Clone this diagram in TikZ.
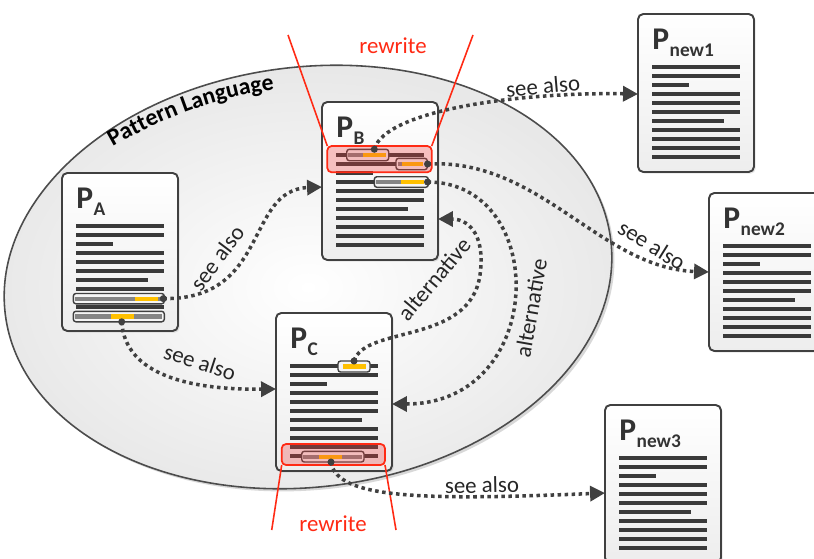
\documentclass[tikz,border=0pt]{standalone}
\usepackage{fontspec}
\setmainfont{Carlito}
\usetikzlibrary{arrows.meta,calc,shadows,decorations.text}

\definecolor{ink}{HTML}{404040}
\definecolor{txt}{HTML}{3A3A3A}
\definecolor{refgray}{HTML}{858585}
\definecolor{mark}{HTML}{FFC000}
\definecolor{hl}{HTML}{FF2A14}
\definecolor{hlfill}{HTML}{F03C3C}

% eleven text lines of a pattern page, relative to its top-left corner
\newcommand\doclines{%
  \foreach \i/\len in {0/88,1/88,2/37,3/88,4/88,5/88,6/72,7/88,8/88,9/88,10/88}
    {\draw[txtline] (14,53+9*\i) -- ++(\len,0);}}
% page heading "P" with its index
\newcommand\doctitle[2]{%
  \node[ptitle] (#1) at (14,35) {P\kern0.3pt\raisebox{-4.3pt}{\fontsize{11}{11}\selectfont #2}};}

\begin{document}
\begin{tikzpicture}[x=0.02cm,y=-0.02cm,
  doc/.style={draw=ink, line width=1.1pt, rounded corners=3pt,
    minimum width=2.32cm, minimum height=3.16cm, anchor=north west,
    inner sep=0pt, outer sep=0pt, top color=white, bottom color=black!7,
    drop shadow={shadow xshift=1pt, shadow yshift=-1pt, opacity=0.2}},
  lang/.style={draw=black!70, line width=0.9pt, inner color=white, outer color=black!9,
    drop shadow={shadow xshift=1.5pt, shadow yshift=-1.5pt, opacity=0.3}},
  txtline/.style={draw=txt, line width=2.3pt},
  refbox/.style={draw=ink, line width=0.8pt, rounded corners=1.5pt, fill=black!4},
  refline/.style={draw=refgray, line width=2.3pt},
  markline/.style={draw=mark, line width=2.3pt},
  refdot/.style={circle, fill=ink, inner sep=0pt, minimum size=4pt},
  link/.style={draw=ink, line width=2pt, dash pattern=on 2pt off 2pt,
    -{Triangle[length=8.5pt,width=8.5pt]}},
  lbl/.style={font=\fontsize{13}{15}\selectfont, text=black!85, inner sep=1pt},
  hlbox/.style={draw=hl, line width=1pt, rounded corners=2.5pt, fill=hlfill, fill opacity=0.3},
  hlline/.style={draw=hl, line width=0.9pt},
  rewrite/.style={font=\fontsize{13}{15}\selectfont, text=hl, inner sep=1pt},
  ptitle/.style={anchor=base west, font=\bfseries\fontsize{18}{18}\selectfont, text=black!80, inner sep=0pt}]

\useasboundingbox (0,0) rectangle (814,558);
\fill[white] (0,0) rectangle (814,558);

% the pattern language
\draw[lang, rotate around={7:(308,277)}] (308,277) ellipse [x radius=305, y radius=210];
\path[decorate, decoration={text along path, text align=center,
    text={|\bfseries\fontsize{13.5}{15}\selectfont|Pattern Language}}]
  (107,150) .. controls (160,119) and (215,97) .. (281,89);

% pattern pages
\node[doc] (PA) at (62,173) {};
\node[doc] (PB) at (322,102) {};
\node[doc] (PC) at (276,313) {};
\node[doc] (PN1) at (638,14) {};
\node[doc] (PN2) at (709,193) {};
\node[doc] (PN3) at (605,405) {};

\begin{scope}[shift={(PA.north west)}]
  \doctitle{tA}{A}
  \doclines
  \draw[refbox] (11.3,120.5) rectangle (102.3,130.8);
  \draw[refline] (13,125.6) -- (100,125.6);
  \draw[markline] (73,125.6) -- (96,125.6);
  \draw[refbox] (11.3,138.3) rectangle (102.3,148.8);
  \draw[refline] (13,143.5) -- (100,143.5);
  \draw[markline] (49,143.5) -- (72,143.5);
  \node[refdot] (dA1) at (101.3,125.6) {};
  \node[refdot] (dA2) at (59.7,148.8) {};
\end{scope}

\begin{scope}[shift={(PB.north west)}]
  \doctitle{tB}{B}
  \doclines
  \draw[refbox] (24.7,47.3) rectangle (66.7,58.7);
  \draw[refline] (26,53) -- (41.3,53);
  \draw[markline] (41.3,53) -- (64,53);
  \draw[refbox] (74,56.3) rectangle (105.3,67.7);
  \draw[refline] (76,62) -- (79.7,62);
  \draw[markline] (79.7,62) -- (101.3,62);
  \draw[refbox] (52.3,74.7) rectangle (106.3,85.3);
  \draw[refline] (54,80) -- (79,80);
  \draw[markline] (79,80) -- (102,80);
  \coordinate (hlBl) at (5.3,44);
  \coordinate (hlBr) at (109.7,44);
  \draw[hlbox] (hlBl) rectangle (109.7,70.3);
  \node[refdot] (dB1) at (52.3,47.3) {};
  \node[refdot] (dB2) at (105.5,62) {};
  \node[refdot] (dB3) at (105.5,80) {};
\end{scope}

\begin{scope}[shift={(PC.north west)}]
  \doctitle{tC}{C}
  \doclines
  \draw[refbox] (62,48) rectangle (94,59);
  \draw[markline] (67.3,53.5) -- (89.7,53.5);
  \draw[refbox] (25.7,138.3) rectangle (88,149);
  \draw[refline] (27,143.6) -- (86,143.6);
  \draw[markline] (43,143.6) -- (65.7,143.6);
  \coordinate (hlCl) at (5.7,152);
  \coordinate (hlCr) at (109,152);
  \draw[hlbox] (5.7,131) rectangle (hlCr);
  \node[refdot] (dC1) at (78,48) {};
  \node[refdot] (dC2) at (55,149) {};
\end{scope}

\begin{scope}[shift={(PN1.north west)}]
  \doctitle{tN1}{new1}
  \doclines
\end{scope}
\begin{scope}[shift={(PN2.north west)}]
  \doctitle{tN2}{new2}
  \doclines
\end{scope}
\begin{scope}[shift={(PN3.north west)}]
  \doctitle{tN3}{new3}
  \doclines
\end{scope}

% rewritten parts
\coordinate (rayBl) at (288,35);
\coordinate (rayBr) at (473,35);
\coordinate (rayCl) at (271.7,530);
\coordinate (rayCr) at (396,530);
\draw[hlline] (hlBl) -- (rayBl);
\draw[hlline] (hlBr) -- (rayBr);
\draw[hlline] (hlCl) -- (rayCl);
\draw[hlline] (hlCr) -- (rayCr);
\node[rewrite] (rwB) at (393,46) {rewrite};
\node[rewrite] (rwC) at (333,524) {rewrite};

% links between patterns
\coordinate (inB1) at ($(PB.north west)+(0,85)$);
\coordinate (inC1) at ($(PC.north west)+(0,76)$);
\coordinate (inN1) at ($(PN1.north west)+(0,80)$);
\coordinate (inN2) at ($(PN2.north west)+(0,79)$);
\coordinate (inC2) at ($(PC.north east)+(0,91)$);
\coordinate (inB2) at ($(PB.north east)+(0,117)$);
\coordinate (inN3) at ($(PN3.north west)+(0,88)$);

\draw[link] (dA1.center) .. controls (270,300) and (245,190) .. (inB1);
\draw[link] (dA2.center) .. controls (125,375) and (190,390) .. (inC1);
\draw[link] (dB1.center) .. controls (385,110) and (520,92) .. (inN1);
\draw[link] (dB2.center) .. controls (540,158) and (600,268) .. (inN2);
\draw[link] (dB3.center) .. controls (550,182) and (548,404) .. (inC2);
\draw[link] (dC1.center) .. controls (365,325) and (470,345) .. (480,275)
                         .. controls (486,230) and (465,219) .. (inB2);
\draw[link] (dC2.center) .. controls (336,500) and (430,500) .. (inN3);

\node[lbl, rotate=53] (l1) at (217,258) {see also};
\node[lbl, rotate=-18] (l2) at (200,362) {see also};
\node[lbl, rotate=5] (l3) at (543,86) {see also};
\node[lbl, rotate=-32] (l4) at (652,245) {see also};
\node[lbl, rotate=80] (l5) at (531,308) {alternative};
\node[lbl, rotate=50] (l6) at (434,279) {alternative};
\node[lbl, rotate=1] (l7) at (482,485) {see also};
\end{tikzpicture}
\end{document}
